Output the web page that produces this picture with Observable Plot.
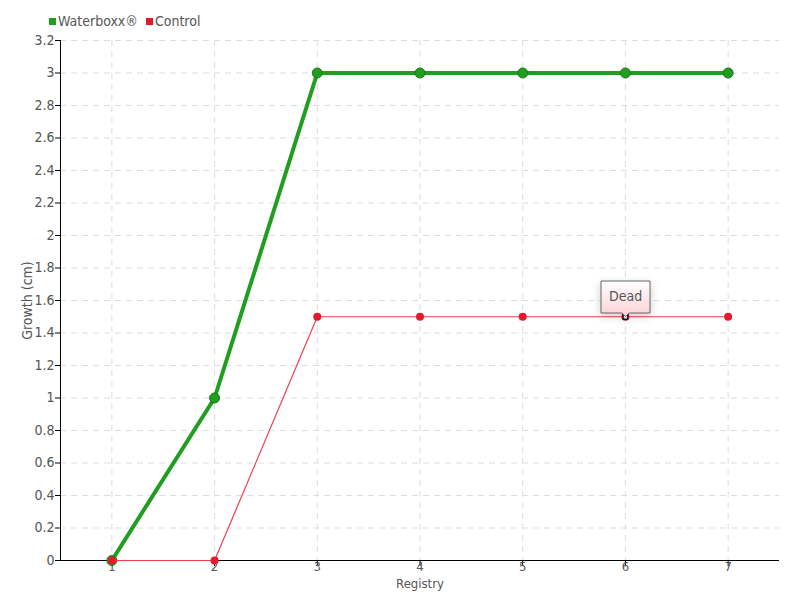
<!DOCTYPE html>
<html>
<head>
<meta charset="utf-8">
<script src="https://cdn.jsdelivr.net/npm/d3@7"></script>
<script src="https://cdn.jsdelivr.net/npm/@observablehq/plot@0.6"></script>
<style>
  body { margin: 0; background: #fff; }
  #wrap { position: relative; width: 800px; height: 600px; font-family: "DejaVu Sans Condensed", "Liberation Sans Narrow", sans-serif; }
  #legend { position: absolute; left: 49px; top: 13px; font-size: 14px; color: #555; display: flex; gap: 8px; align-items: center; }
  #legend span.sw { display: inline-block; width: 7px; height: 7px; margin-right: 2px; vertical-align: middle; }
  #legend .item { display: flex; align-items: center; }
</style>
</head>
<body>
<div id="wrap">
  <div id="legend"></div>
  <div id="chart"></div>
</div>
<script>
const registry = [1, 2, 3, 4, 5, 6, 7];
const waterboxx = [0, 1, 3, 3, 3, 3, 3];
const control = [0, 0, 1.5, 1.5, 1.5, 1.5, 1.5];
const yTicks = [0, 0.2, 0.4, 0.6, 0.8, 1, 1.2, 1.4, 1.6, 1.8, 2, 2.2, 2.4, 2.6, 2.8, 3, 3.2];
const seriesNames = ["Waterboxx®", "Control"];
const seriesColors = ["#1f9e1f", "#e8192c"];
const annotations = [{registry: 6, value: 1.5, text: "Dead"}];

const wData = registry.map((r, i) => ({registry: r, value: waterboxx[i]}));
const cData = registry.map((r, i) => ({registry: r, value: control[i]}));

const legend = document.getElementById("legend");
seriesNames.forEach((n, i) => {
  const it = document.createElement("div");
  it.className = "item";
  it.innerHTML = `<span class="sw" style="background:${seriesColors[i]}"></span>${n}`;
  legend.appendChild(it);
});

const fmt = d => String(+d.toFixed(1));
const FF = '"DejaVu Sans Condensed", "Liberation Sans Narrow", sans-serif';

const chart = Plot.plot({
  width: 800,
  height: 600,
  marginTop: 40,
  marginBottom: 40,
  marginLeft: 60,
  marginRight: 21,
  style: {fontFamily: FF, fontSize: "13px", color: "#555", background: "#fff"},
  x: {domain: [0.5, 7.5], ticks: registry, tickFormat: d => String(d)},
  y: {domain: [0, 3.2], ticks: yTicks, tickFormat: fmt},
  marks: [
    Plot.gridX(registry, {stroke: "#ddd", strokeOpacity: 1, strokeDasharray: "6,5"}),
    Plot.gridY(yTicks, {stroke: "#ddd", strokeOpacity: 1, strokeDasharray: "6,5"}),
    Plot.axisX({ticks: registry, tickSize: 6, tickPadding: -5, tickFormat: d => String(d), stroke: "#000", color: "#555", label: "Registry", labelAnchor: "center", labelArrow: "none", labelOffset: 27, fontSize: 13}),
    Plot.axisY({ticks: yTicks, tickSize: 5, tickPadding: 1, tickFormat: fmt, stroke: "#000", color: "#555", label: "Growth (cm)", labelAnchor: "center", labelArrow: "none", labelOffset: 38, fontSize: 14}),
    Plot.ruleX([0.5], {stroke: "#000"}),
    Plot.ruleY([0], {stroke: "#000"}),
    Plot.line(wData, {x: "registry", y: "value", stroke: seriesColors[0], strokeWidth: 4}),
    Plot.dot(wData, {x: "registry", y: "value", r: 5, fill: seriesColors[0], stroke: "#177a17", strokeWidth: 1}),
    Plot.line(cData, {x: "registry", y: "value", stroke: "#f0404c", strokeWidth: 1.2}),
    Plot.dot(cData, {x: "registry", y: "value", r: 4, fill: seriesColors[1], stroke: "none"}),
    Plot.dot(annotations, {x: "registry", y: "value", symbol: "square", r: 2.6, fill: "#fff", stroke: "#000", strokeWidth: 1.2}),
    Plot.tip(annotations, {x: "registry", y: "value", title: "text", anchor: "bottom", pointerSize: 7, fill: "url(#deadGrad)", stroke: "#666", fontSize: 14, textPadding: 8, fontFamily: FF})
  ]
});

const ns = "http://www.w3.org/2000/svg";
const defs = document.createElementNS(ns, "defs");
defs.innerHTML = `<linearGradient id="deadGrad" x1="0" y1="0" x2="0" y2="1"><stop offset="0" stop-color="#fff"/><stop offset="1" stop-color="#fbd0d4"/></linearGradient>`;
chart.insertBefore(defs, chart.firstChild);
document.getElementById("chart").appendChild(chart);
</script>
</body>
</html>
